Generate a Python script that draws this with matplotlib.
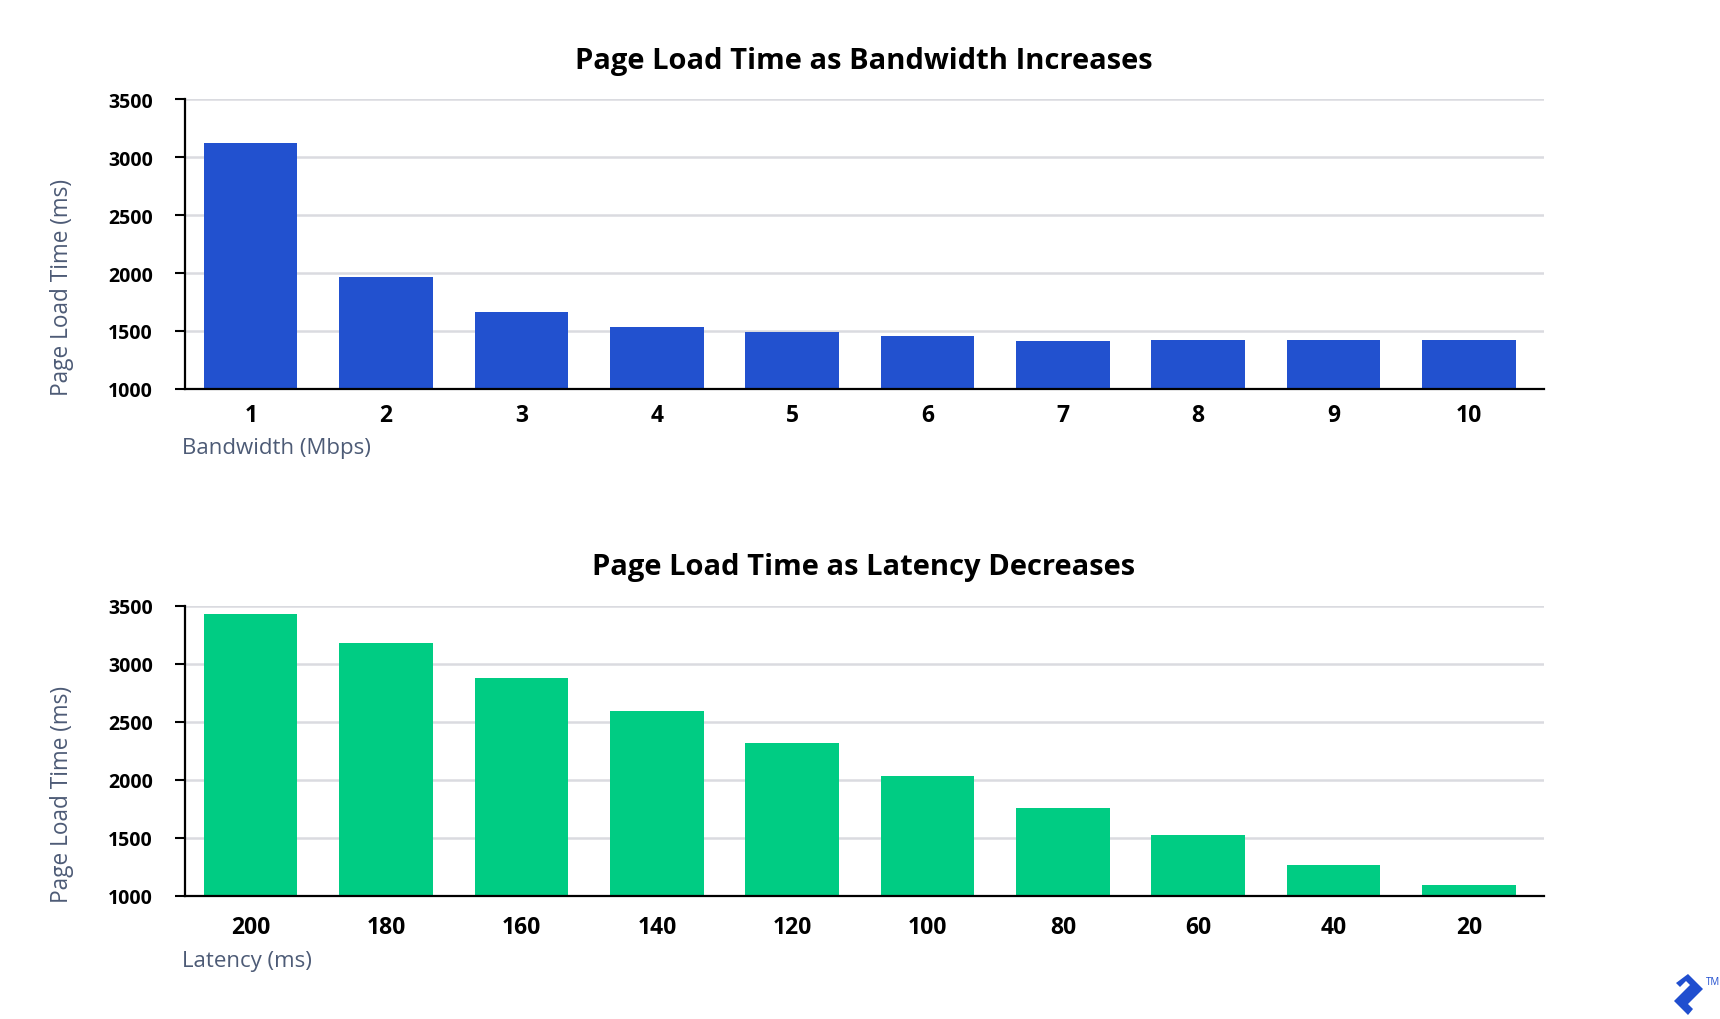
import numpy as np
import matplotlib
matplotlib.use("Agg")
import matplotlib.pyplot as plt
from matplotlib.patches import Polygon

plt.rcParams['font.family'] = ['Open Sans', 'DejaVu Sans']

# ---------- data ----------
bandwidth_labels = ["1", "2", "3", "4", "5", "6", "7", "8", "9", "10"]
bandwidth_load_ms = [3120, 1965, 1660, 1534, 1494, 1454, 1414, 1420, 1422, 1422]

latency_labels = ["200", "180", "160", "140", "120", "100", "80", "60", "40", "20"]
latency_load_ms = [3431, 3184, 2882, 2591, 2319, 2034, 1761, 1526, 1264, 1098]

y_ticks = [1000, 1500, 2000, 2500, 3000, 3500]

BLUE = "#2251cf"
GREEN = "#00cc83"
GRID = "#dadbe0"
LABEL = "#4d5b76"

W, H = 1720, 1020
fig = plt.figure(figsize=(W / 100, H / 100), dpi=100)


def px(x, y):
    # pixel (from top-left) -> figure fraction
    return x / W, 1 - y / H


def draw_panel(top_px, labels, values, color, title, xlabel, tick_pad, xlab_off):
    left, right, bottom = 185, 1544, top_px + 290
    ax = fig.add_axes([left / W, 1 - bottom / H, (right - left) / W, 290 / H])
    x = np.arange(len(labels))
    ax.bar(x, np.array(values) - 1000, bottom=1000, width=0.69, color=color,
           zorder=3)
    ax.set_xlim(-0.486, len(labels) - 0.445)
    ax.set_ylim(1000, 3500)
    ax.set_yticks(y_ticks)
    ax.set_yticklabels([str(t) for t in y_ticks], fontsize=14,
                       fontweight='bold')
    ax.set_xticks(x)
    ax.set_xticklabels(labels, fontsize=16.5, fontweight='bold')
    ax.tick_params(axis='x', length=0, pad=tick_pad)
    ax.tick_params(axis='y', length=7, width=1.5, pad=16, direction='out')
    ax.grid(axis='y', color=GRID, linewidth=1.8, zorder=0)
    for s in ['top', 'right']:
        ax.spines[s].set_visible(False)
    for s in ['left', 'bottom']:
        ax.spines[s].set_linewidth(1.6)
        ax.spines[s].set_color('black')
        ax.spines[s].set_zorder(4)

    fig.text(*px(864, top_px - 39), title, ha='center', va='center',
             fontsize=21, fontweight='bold', color='black')
    fig.text(*px(62, bottom + 6), "Page Load Time (ms)", rotation=90,
             ha='center', va='bottom', fontsize=16.3, color=LABEL)
    fig.text(*px(182, bottom + xlab_off), xlabel, ha='left', va='center',
             fontsize=16, color=LABEL)
    return ax


draw_panel(100, bandwidth_labels, bandwidth_load_ms, BLUE,
           "Page Load Time as Bandwidth Increases", "Bandwidth (Mbps)", 10, 59)
draw_panel(607, latency_labels, latency_load_ms, GREEN,
           "Page Load Time as Latency Decreases", "Latency (ms)", 14, 65)

# small logo mark in the corner
logo = [(1688, 975), (1703, 990), (1688, 1005), (1693, 1010), (1688, 1016),
        (1674, 1002), (1690, 986), (1686, 982), (1680, 988), (1676, 984)]
fig.patches.append(Polygon([px(*p) for p in logo], closed=True,
                           transform=fig.transFigure, facecolor="#204ecf",
                           edgecolor='none'))
fig.text(*px(1706, 983), "TM", fontsize=7, color="#204ecf", ha='left',
         va='center')

fig.savefig("out.png", dpi=100, facecolor='white')
